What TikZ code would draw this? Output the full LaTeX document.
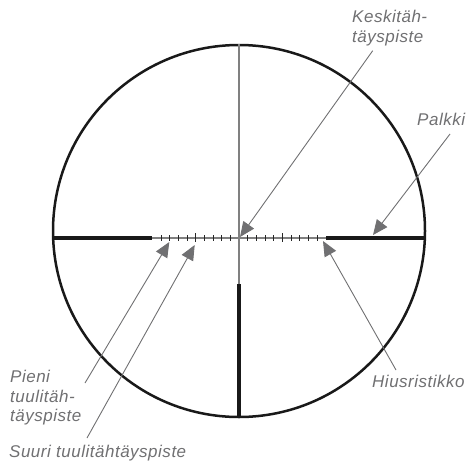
\documentclass[tikz,border=0pt]{standalone}
\usepackage{fontspec}
\setmainfont[LetterSpace=3]{Liberation Sans}
\usetikzlibrary{positioning,arrows.meta}
\definecolor{labelgray}{RGB}{112,112,114}
\begin{document}
\begin{tikzpicture}[x=1pt,y=-1pt,
lens/.style={circle,draw=black!90,line width=2.5pt,minimum size=372pt,inner sep=0pt},
bar/.style={black!90,line width=4pt},
hair/.style={black!50,line width=1.4pt},
tick/.style={black!85,line width=0.9pt},
label/.style={align=left,inner sep=0pt,text=labelgray,font=\itshape\fontsize{17}{19.5}\selectfont},
arrow/.style={-{Triangle[length=15pt,width=13pt]},labelgray,line width=0.9pt}]
\useasboundingbox (0,0) rectangle (468,461);
\node[lens](sight) at (239,231){};
% hair lines and thick bars
\coordinate (c) at (239,238);
\draw[hair](sight.north)--(239,284);
\draw[hair](152,238)--(326,238);
\draw[bar](sight.west |- c)--(152,238);
\draw[bar](326,238)--(sight.east |- c);
\draw[bar](239,284)--(sight.south);
% small and large wind marks
\foreach \k in {1,...,9}{
\pgfmathsetmacro{\dx}{8.67*\k}
\draw[tick](239-\dx,235)--(239-\dx,240.7);
\draw[tick](239+\dx,235)--(239+\dx,240.7);}
\draw[tick](239-43.35,233.3)--(239-43.35,242);
\draw[tick](239+43.35,233.3)--(239+43.35,242);
% texts
\node[label,anchor=north west](keski) at (352,10){Keskitäh-\\täyspiste};
\node[label,anchor=north west](palkki) at (417,113){Palkki};
\node[label,anchor=north west](hius) at (372,375){Hiusristikko};
\node[label,anchor=north west](pieni) at (10,370){Pieni\\tuulitäh-\\täyspiste};
\node[label,anchor=north west](suuri) at (9,445){Suuri tuulitähtäyspiste};
% tips and free ends
\coordinate (keskiend) at (372.7,50.7);
\coordinate (palkkiend) at (450,134);
\coordinate (hiusend) at (396,370);
\coordinate (pieniend) at (85,383);
\coordinate (suuriend) at (87,438);
\draw[arrow](keskiend)--(240,237);
\draw[arrow](palkkiend)--(373,235);
\draw[arrow](hiusend)--(323,241);
\draw[arrow](pieniend)--(169.3,242);
\draw[arrow](suuriend)--(194.7,245);
\end{tikzpicture}
\end{document}
